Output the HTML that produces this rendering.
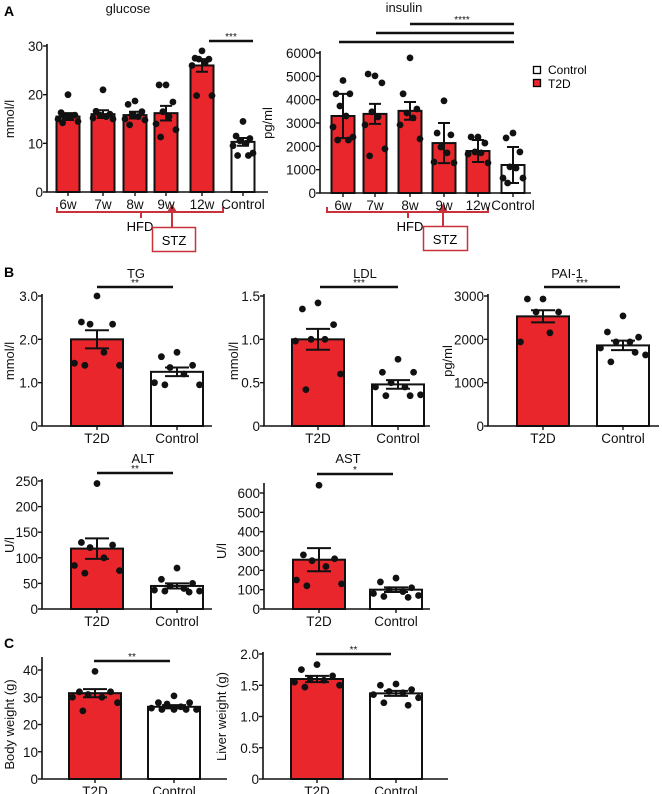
<!DOCTYPE html>
<html><head><meta charset="utf-8"><style>
html,body{margin:0;padding:0;background:#fff;}
svg{display:block;font-family:"Liberation Sans",Arial,sans-serif;}
</style></head><body>
<svg id="fig" width="662" height="794" viewBox="0 0 662 794" xmlns="http://www.w3.org/2000/svg">
<g fill="#000" font-weight="bold" font-size="14">
<text x="4" y="16">A</text>
<text x="4" y="277">B</text>
<text x="4" y="648">C</text>
</g>
<g font-size="12">
<rect x="533.5" y="66.5" width="7" height="7" fill="#fff" stroke="#000" stroke-width="1.3"/>
<text x="548" y="74">Control</text>
<rect x="533.5" y="79.5" width="7" height="7" fill="#e8262c" stroke="#000" stroke-width="1.3"/>
<text x="548" y="88">T2D</text>
</g>
<g stroke="#c8323a" stroke-width="2" fill="none">
<path d="M57,207 V212 H223 V207 M141,212 V218"/>
</g>
<text x="140" y="231" font-size="13" text-anchor="middle">HFD</text>
<rect x="152.5" y="227.5" width="43" height="24" fill="#fff" stroke="#c8323a" stroke-width="1.5"/>
<text x="174" y="245" font-size="13" text-anchor="middle">STZ</text>
<path d="M172,227 V210" stroke="#c8323a" stroke-width="2"/>
<path d="M167,212 L172,204 L177,212 Z" fill="#c8323a"/>
<g stroke="#c8323a" stroke-width="2" fill="none">
<path d="M327,207 V212 H488 V207 M408,212 V218"/>
</g>
<text x="410" y="231" font-size="13" text-anchor="middle">HFD</text>
<rect x="423.5" y="226.5" width="44" height="24" fill="#fff" stroke="#c8323a" stroke-width="1.5"/>
<text x="445" y="244" font-size="13" text-anchor="middle">STZ</text>
<path d="M443,226 V210" stroke="#c8323a" stroke-width="2"/>
<path d="M438,212 L443,204 L448,212 Z" fill="#c8323a"/>
</svg>
<script>
// ---- data ----
const timeCats = ['6w','7w','8w','9w','12w','Control'];
const groupCats = ['T2D','Control'];
const glucoseMeans = [15.5,16.0,15.8,16.2,26.0,10.3];
const glucoseErr = [0.7,0.8,0.7,1.5,1.3,0.8];
const glucosePts = [[20,16.3,15.8,15.5,15.5,15,14.5,14.2],[21,16.6,16,15.8,15.5,15.2,15],[18.7,18,16.5,15.8,15.5,15,14.8,13.8],[22,22,18.5,16.5,15.5,14,12.8,11.3],[29,27.5,27.3,27.3,26.5,26,19.8,19.8],[14.5,11.5,11,10.5,10,9.5,8,7.5,7.5]];
const glucoseTicks = [0,10,20,30];
const insulinMeans = [3300,3390,3520,2140,1800,1200];
const insulinErr = [950,430,380,860,470,770];
const insulinPts = [[4820,4250,4250,3730,3300,2830,2400,2270,2270],[5020,5100,4720,3480,3260,2920,1890,1590],[5790,4250,3600,3430,3220,2920,2320],[3950,2570,2490,1970,1720,1330,1290],[2400,2400,2140,1760,1720,1670,1290],[2570,2360,1760,1120,1070,640,640,430]];
const insulinTicks = [0,1000,2000,3000,4000,5000,6000];
const tgMeans = [2.0,1.25];
const tgErr = [0.21,0.1];
const tgPts = [[3.0,2.4,2.35,2.35,1.7,1.45,1.4,1.4],[1.7,1.6,1.4,1.35,1.2,1.0,0.95,0.95]];
const tgTicks = [0,1.0,2.0,3.0];
const ldlMeans = [1.0,0.48];
const ldlErr = [0.12,0.05];
const ldlPts = [[1.42,1.35,1.17,1.0,1.0,0.98,0.6,0.42],[0.77,0.62,0.62,0.5,0.45,0.45,0.36,0.35,0.35]];
const ldlTicks = [0,0.5,1.0,1.5];
const paiMeans = [2530,1860];
const paiErr = [140,110];
const paiPts = [[2930,2930,2630,2630,2150,1940],[2540,2170,2050,1940,1940,1800,1640,1480,1700]];
const paiTicks = [0,1000,2000,3000];
const altMeans = [118,45];
const altErr = [20,5];
const altPts = [[245,130,125,120,100,85,75,70],[80,58,50,45,40,37,35,35,33]];
const altTicks = [0,50,100,150,200,250];
const astMeans = [255,100];
const astErr = [60,12];
const astPts = [[640,280,260,250,220,150,130,120],[160,140,110,100,90,80,70,65,60]];
const astTicks = [0,100,200,300,400,500,600];
const bwMeans = [31.5,26.5];
const bwErr = [1.5,0.6];
const bwPts = [[39.5,32,32,31,30,30,28,25],[30.5,28,28,27.5,26.5,26,25.5,25.5,25.5,25.5]];
const bwTicks = [0,10,20,30,40];
const lwMeans = [1.6,1.37];
const lwErr = [0.05,0.04];
const lwPts = [[1.83,1.75,1.65,1.6,1.58,1.55,1.5,1.47],[1.52,1.5,1.43,1.4,1.38,1.35,1.3,1.22,1.18]];
const lwTicks = [0,0.5,1.0,1.5,2.0];

const RED='#e8262c';
const NS='http://www.w3.org/2000/svg';
const svg=document.getElementById('fig');
function mk(tag,attrs,parent){const e=document.createElementNS(NS,tag);for(const k in attrs)e.setAttribute(k,attrs[k]);(parent||svg).appendChild(e);return e;}
const offs=[0,-9,9,-4,4,-13,13,-7,7,0,-11,11];

function panel(c){
  const g=mk('g',{});
  
  
  const ymax=c.ticks[c.ticks.length-1];
  const Y=v=>c.y0-v*(c.y0-c.ytop)/ymax;
  c.means.forEach((m,i)=>{
    const cx=c.cx[i], w=c.bw;
    const isCtrl=c.cats[i]==='Control';
    const r=mk('rect',{x:cx-w/2,y:Y(m),width:w,height:c.y0-Y(m),fill:isCtrl?'#fff':RED,stroke:'#111','stroke-width':2},g);
    
    
  });
  c.pts.forEach((arr,i)=>{
    arr.forEach((v,j)=>{
      const d=mk('circle',{cx:c.cx[i]+offs[j%offs.length]*c.bw/30,cy:Y(v),r:3.4,fill:'#111'},g);
      
      
    });
  });
  c.means.forEach((m,i)=>{
    const cx=c.cx[i],cw=c.cap;
    const e=mk('path',{d:`M${cx},${Y(m-c.err[i])}V${Y(m+c.err[i])}M${cx-cw},${Y(m+c.err[i])}H${cx+cw}M${cx-cw},${Y(m-c.err[i])}H${cx+cw}`,stroke:'#111','stroke-width':2,fill:'none'},g);
    
    
  });
  const ax=mk('path',{d:`M${c.x0},${c.axTop}V${c.y0}H${c.xEnd}`,stroke:'#111','stroke-width':1.6,fill:'none'},g);
  
  
  c.ticks.forEach(t=>{
    mk('path',{d:`M${c.x0-4},${Y(t)}H${c.x0}`,stroke:'#111','stroke-width':1.4},g);
    const tx=mk('text',{x:c.x0-4,y:Y(t)+5,'font-size':13.5,'text-anchor':'end',fill:'#111'},g);
    tx.textContent=c.fmt?c.fmt(t):String(t);
    
    
  });
  c.cats.forEach((cat,i)=>{
    mk('path',{d:`M${c.cx[i]},${c.y0}V${c.y0+4}`,stroke:'#111','stroke-width':1.4},g);
    const tx=mk('text',{x:c.cx[i],y:c.y0+17,'font-size':13.5,'text-anchor':'middle',fill:'#111'},g);
    tx.textContent=cat;
    
    
  });
  const yl=mk('text',{x:c.ylx,y:(c.y0+c.ytop)/2,'font-size':13,'text-anchor':'middle',fill:'#111',transform:`rotate(-90 ${c.ylx} ${(c.y0+c.ytop)/2})`},g);
  yl.textContent=c.ylabel;
  
  
  if(c.title){
    const t=mk('text',{x:c.title[1],y:c.title[2],'font-size':13,'text-anchor':'middle',fill:'#111'},g);
    t.textContent=c.title[0];
    
    
  }
  (c.sig||[]).forEach(s=>{
    const l=mk('path',{d:`M${s[0]},${s[2]}H${s[1]}`,stroke:'#111','stroke-width':2.6},g);
    
    
    if(s[3]){
      const t=mk('text',{x:(s[0]+s[1])/2,y:s[2]-1,'font-size':10,'text-anchor':'middle',fill:'#111'},g);
      t.textContent=s[3];
      
      
    }
  });
}
const dec=t=>t===0?'0':t.toFixed(1);
panel({name:'glucose',cats:timeCats,means:glucoseMeans,err:glucoseErr,pts:glucosePts,ticks:glucoseTicks,x0:47,y0:192,ytop:46,axTop:44,xEnd:268,cx:[68,103,135,166,202,243],bw:23,cap:6,ylabel:'mmol/l',ylx:14,title:['glucose',128,13],sig:[[209,253,41,'***']]});
panel({name:'insulin',cats:timeCats,means:insulinMeans,err:insulinErr,pts:insulinPts,ticks:insulinTicks,x0:320,y0:193,ytop:53,axTop:51,xEnd:531,cx:[343,375,410,444,478,513],bw:23,cap:6,ylabel:'pg/ml',ylx:272,title:['insulin',404,12],sig:[[410,514,24,'****'],[376,514,33,''],[339,514,42,'']]});
panel({name:'tg',cats:groupCats,means:tgMeans,err:tgErr,pts:tgPts,ticks:tgTicks,fmt:dec,x0:42,y0:426,ytop:296,axTop:294,xEnd:212,cx:[97,177],bw:52,cap:12,ylabel:'mmol/l',ylx:14,title:['TG',136,278],sig:[[97,173,287,'**']]});
panel({name:'ldl',cats:groupCats,means:ldlMeans,err:ldlErr,pts:ldlPts,ticks:ldlTicks,fmt:dec,x0:264,y0:426,ytop:296,axTop:294,xEnd:430,cx:[318,398],bw:52,cap:12,ylabel:'mmol/l',ylx:238,title:['LDL',365,278],sig:[[320,398,287,'***']]});
panel({name:'pai-1',cats:groupCats,means:paiMeans,err:paiErr,pts:paiPts,ticks:paiTicks,x0:488,y0:426,ytop:296,axTop:294,xEnd:659,cx:[543,623],bw:52,cap:12,ylabel:'pg/ml',ylx:452,title:['PAI-1',567,278],sig:[[544,620,287,'***']]});
panel({name:'alt',cats:groupCats,means:altMeans,err:altErr,pts:altPts,ticks:altTicks,x0:42,y0:609,ytop:481,axTop:479,xEnd:212,cx:[97,177],bw:52,cap:12,ylabel:'U/l',ylx:14,title:['ALT',143,463],sig:[[97,173,473,'**']]});
panel({name:'ast',cats:groupCats,means:astMeans,err:astErr,pts:astPts,ticks:astTicks,x0:264,y0:609,ytop:493,axTop:483,xEnd:430,cx:[319,396],bw:52,cap:12,ylabel:'U/l',ylx:226,title:['AST',348,463],sig:[[317,393,474,'*']]});
panel({name:'body-weight',cats:groupCats,means:bwMeans,err:bwErr,pts:bwPts,ticks:bwTicks,x0:42,y0:779,ytop:670,axTop:657,xEnd:227,cx:[95,174],bw:52,cap:12,ylabel:'Body weight (g)',ylx:14,sig:[[94,170,661,'**']]});
panel({name:'liver-weight',cats:groupCats,means:lwMeans,err:lwErr,pts:lwPts,ticks:lwTicks,fmt:dec,x0:263,y0:779,ytop:654,axTop:652,xEnd:448,cx:[317,396],bw:52,cap:12,ylabel:'Liver weight (g)',ylx:226,sig:[[316,391,654,'**']]});
</script>
</body></html>
